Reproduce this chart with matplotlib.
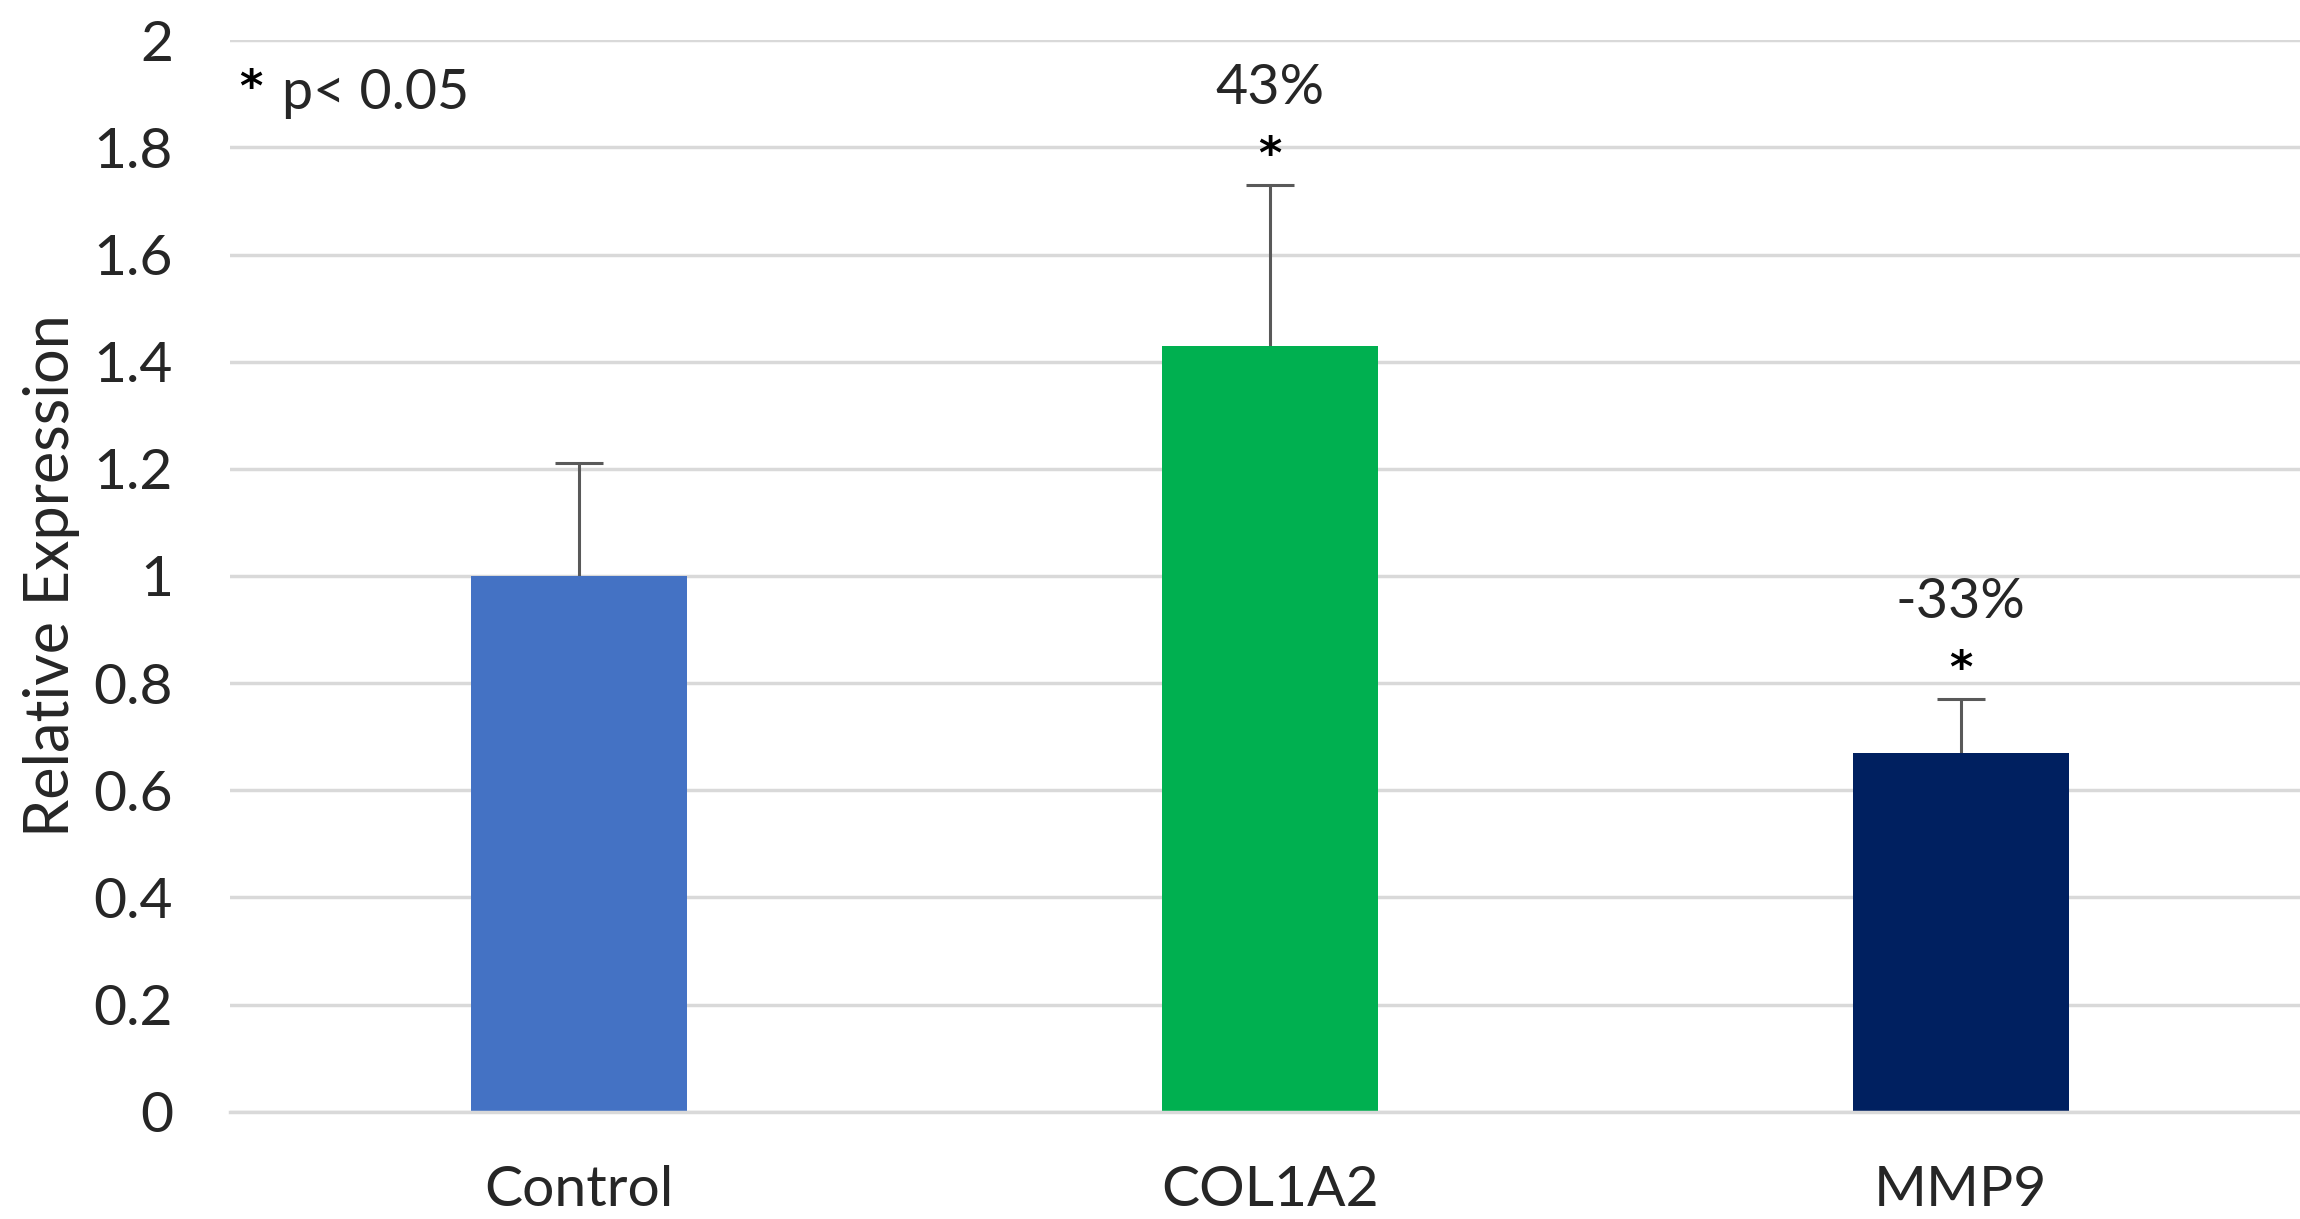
import matplotlib
matplotlib.use("Agg")
import matplotlib.pyplot as plt
import numpy as np

# data
categories = ["Control", "COL1A2", "MMP9"]
values = [1.00, 1.43, 0.67]
errors = [0.21, 0.30, 0.10]
changes = [None, "43%", "-33%"]      # percent change vs control, None = no label
significant = [False, True, True]
bar_colors = ["#4472C4", "#00B050", "#002060"]
y_ticks = [0, 0.2, 0.4, 0.6, 0.8, 1, 1.2, 1.4, 1.6, 1.8, 2]
y_tick_labels = ["0", "0.2", "0.4", "0.6", "0.8", "1", "1.2", "1.4", "1.6", "1.8", "2"]

plt.rcParams["font.family"] = ["Lato", "DejaVu Sans"]
text_color = "#262626"

fig = plt.figure(figsize=(23, 12.19), dpi=100)
ax = fig.add_axes([0.1, 0.088, 0.9, 0.879])

x = np.arange(len(categories))
ax.bar(x, values, width=0.312, color=bar_colors, zorder=2)
# error bars drawn below the bars so only the upper half shows
ax.errorbar(x, values, yerr=errors, fmt="none",
            ecolor="#595959", elinewidth=2.2, capsize=17, capthick=2.2, zorder=1.5)

# significance stars and percent labels above the error bars
for xi, v, e, lab, sig in zip(x, values, errors, changes, significant):
    top = v + e
    if sig:
        ax.text(xi, top + 0.055, "*", ha="center", va="center",
                fontsize=32, fontweight="bold", color="black",
                family=["DejaVu Sans"])
    if lab:
        ax.text(xi, top + 0.18, lab, ha="center", va="center",
                fontsize=40, color=text_color)

ax.text(-0.492, 1.91, "*", ha="left", va="center", fontsize=32,
        fontweight="bold", family=["DejaVu Sans"])
ax.text(-0.43, 1.9, "p< 0.05", ha="left", va="center", fontsize=40, color=text_color)

ax.set_xlim(-0.505, 2.491)
ax.set_ylim(0, 2)
ax.set_xticks(x)
ax.set_xticklabels(categories, fontsize=41, color=text_color)
ax.set_yticks(y_ticks)
ax.set_yticklabels(y_tick_labels, fontsize=41, color=text_color)
ax.tick_params(length=0)
ax.tick_params(axis="x", pad=38)
ax.tick_params(axis="y", pad=41)
ax.set_ylabel("Relative Expression", fontsize=44, color=text_color, labelpad=10)

ax.yaxis.grid(True, color="#d9d9d9", linewidth=2.5, zorder=0)
ax.set_axisbelow(True)
for s in ["left", "right", "top"]:
    ax.spines[s].set_visible(False)
ax.spines["bottom"].set_color("#d9d9d9")
ax.spines["bottom"].set_linewidth(2.5)

fig.savefig("out.png", dpi=100)
